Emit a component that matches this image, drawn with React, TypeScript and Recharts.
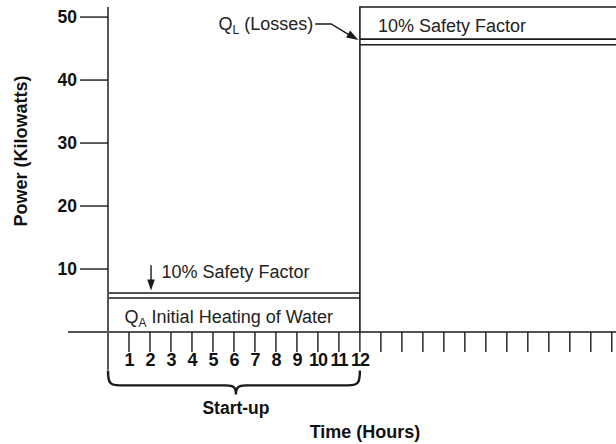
import React from 'react';
import { LineChart, Line, XAxis, YAxis, ReferenceLine, ReferenceDot } from 'recharts';

// ---- data ----
const hourTicks = [1, 2, 3, 4, 5, 6, 7, 8, 9, 10, 11, 12, 13, 14, 15, 16, 17, 18, 19, 20, 21, 22, 23, 24];
const labeledHours = [1, 2, 3, 4, 5, 6, 7, 8, 9, 10, 11, 12];
const powerTicks = [10, 20, 30, 40, 50];

const startupEnd = 12;
const dayEnd = 24.2;
const hourMin = -1.9; // left end of the time axis line
const powerMax = 51.6;
const powerMin = -6; // lower end of the power axis line
const braceLevel = -6.1;

const qA = 5.4; // initial heating of water (kW)
const qASafety = 6.2; // with 10% safety factor
const qL = 45.6; // losses (kW)
const qLSafety = 46.5; // with 10% safety factor

const startupLoad = [{ h: 0, p: qA }, { h: startupEnd, p: qA }];
const startupSafety = [{ h: 0, p: qASafety }, { h: startupEnd, p: qASafety }];
const lossLoad = [{ h: startupEnd, p: qL }, { h: dayEnd, p: qL }];
const lossSafety = [{ h: startupEnd, p: qLSafety }, { h: dayEnd, p: qLSafety }];
const lossBox = [{ h: startupEnd, p: 0 }, { h: startupEnd, p: powerMax }, { h: dayEnd, p: powerMax }];

// annotation anchors (data units)
const topSafetyAnchor = { h: 12.86, p: 47.7 };
const lowSafetyAnchor = { h: 2.55, p: 8.5 };
const qAAnchor = { h: 0.79, p: 1.5 };
const qLLeader = [{ x: 9.87, y: 48.9 }, { x: 11.93, y: 46.35 }];
const downArrow = [{ x: 2.05, y: 10.6 }, { x: 2.05, y: 6.6 }];

const FONT = '"Liberation Sans", Arial, Helvetica, sans-serif';
const INK = '#1a1a1a';

const HourTick = (props: any) => {
  const { x, y, payload } = props;
  if (!labeledHours.includes(payload.value)) return <g />;
  return (
    <text x={x} y={y + 13.5} textAnchor="middle" fontFamily={FONT} fontSize={18} fontWeight="bold" fill="#111" letterSpacing={-1}>
      {payload.value}
    </text>
  );
};

const arrowHead = (x1: number, y1: number, x2: number, y2: number, len = 10, half = 3.5) => {
  const dx = x2 - x1;
  const dy = y2 - y1;
  const d = Math.sqrt(dx * dx + dy * dy) || 1;
  const ux = dx / d;
  const uy = dy / d;
  const bx = x2 - ux * len;
  const by = y2 - uy * len;
  return `M${x2},${y2} L${bx - uy * half},${by + ux * half} L${bx + uy * half},${by - ux * half} Z`;
};

const DownArrowShape = (props: any) => {
  const { x1, y1, x2, y2 } = props;
  return (
    <g>
      <line x1={x1} y1={y1} x2={x2} y2={y2 - 6} stroke={INK} strokeWidth={1.4} />
      <path d={arrowHead(x1, y1, x2, y2, 11, 3.8)} fill={INK} />
    </g>
  );
};

const LeaderShape = (props: any) => {
  const { x1, y1, x2, y2 } = props;
  const kx = x1 + 16;
  return (
    <g>
      <path d={`M${x1},${y1} H${kx} L${x2 - 6},${y2 - 3.2}`} stroke={INK} strokeWidth={1.4} fill="none" />
      <path d={arrowHead(kx, y1, x2, y2, 12, 4)} fill={INK} />
    </g>
  );
};

const BraceShape = (props: any) => {
  const { x1, y1, x2 } = props;
  const mid = (x1 + x2) / 2 + 2;
  const h = 15;
  const tip = 24;
  const d = `M${x1},${y1} C${x1},${y1 + h - 2} ${x1 + 2},${y1 + h} ${x1 + 12},${y1 + h} L${mid - 10},${y1 + h} C${mid - 2},${y1 + h} ${mid},${y1 + h + 2} ${mid},${y1 + tip} C${mid},${y1 + h + 2} ${mid + 2},${y1 + h} ${mid + 10},${y1 + h} L${x2 - 12},${y1 + h} C${x2 - 2},${y1 + h} ${x2},${y1 + h - 2} ${x2},${y1}`;
  return (
    <g>
      <path d={d} stroke={INK} strokeWidth={2.4} fill="none" />
      <text x={mid} y={y1 + 44} textAnchor="middle" fontFamily={FONT} fontSize={17.5} fontWeight="bold" fill="#111">
        Start-up
      </text>
    </g>
  );
};

const textShape = (content: React.ReactNode) => (props: any) => {
  const { cx, cy } = props;
  return (
    <text x={cx} y={cy} fontFamily={FONT} fontSize={18} fill="#222">
      {content}
    </text>
  );
};

const QLText = (props: any) => {
  const { cx, cy } = props;
  return (
    <text x={cx - 2} y={cy + 6} textAnchor="end" fontFamily={FONT} fontSize={18} fill="#222">
      <tspan>Q</tspan>
      <tspan fontSize={12} dy={4}>L</tspan>
      <tspan dy={-4}> (Losses)</tspan>
    </text>
  );
};

const QAText = (props: any) => {
  const { cx, cy } = props;
  return (
    <text x={cx} y={cy} fontFamily={FONT} fontSize={18} fill="#222">
      <tspan>Q</tspan>
      <tspan fontSize={12} dy={4}>A</tspan>
      <tspan dy={-4}> Initial Heating of Water</tspan>
    </text>
  );
};

const PowerTitle = () => (
  <text x={27} y={151} transform="rotate(-90 27 151)" textAnchor="middle" fontFamily={FONT} fontSize={18} fontWeight="bold" fill="#111">
    Power (Kilowatts)
  </text>
);

export default function App() {
  return (
    <div style={{ position: 'absolute', left: 0, top: 0, background: '#fff' }}>
      <LineChart width={616} height={444} margin={{ top: 7, right: 0, bottom: 0, left: 0 }}>
        <XAxis
          type="number"
          dataKey="h"
          domain={[0, dayEnd]}
          ticks={hourTicks}
          interval={0}
          height={112}
          tickSize={20}
          tickMargin={0}
          tickLine={{ stroke: INK, strokeWidth: 1.4 }}
          axisLine={false}
          tick={<HourTick />}
          label={{ value: 'Time (Hours)', position: 'insideBottom', offset: 6, dx: 3, style: { fontFamily: FONT, fontSize: 18, fontWeight: 'bold', fill: '#111' } }}
        />
        <YAxis
          type="number"
          dataKey="p"
          domain={[0, powerMax]}
          ticks={powerTicks}
          interval={0}
          width={108}
          tickSize={28}
          tickMargin={3}
          tickLine={{ stroke: INK, strokeWidth: 1.4 }}
          axisLine={{ stroke: '#555', strokeWidth: 2 }}
          tick={{ fontFamily: FONT, fontSize: 17.5, fontWeight: 'bold', fill: '#111' }}
          label={{ content: <PowerTitle /> }}
        />
        <ReferenceLine segment={[{ x: hourMin, y: 0 }, { x: dayEnd, y: 0 }]} stroke={INK} strokeWidth={1.4} ifOverflow="visible" />
        <ReferenceLine segment={[{ x: 0, y: 0 }, { x: 0, y: powerMin }]} stroke="#555" strokeWidth={2} ifOverflow="visible" />
        <ReferenceLine segment={[{ x: 0, y: braceLevel }, { x: startupEnd, y: braceLevel }]} ifOverflow="visible" shape={(p: any) => <BraceShape {...p} />} />

        <Line data={startupLoad} dataKey="p" stroke={INK} strokeWidth={1.6} dot={false} isAnimationActive={false} />
        <Line data={startupSafety} dataKey="p" stroke={INK} strokeWidth={1.6} dot={false} isAnimationActive={false} />
        <Line data={lossBox} dataKey="p" stroke={INK} strokeWidth={1.6} dot={false} isAnimationActive={false} />
        <Line data={lossLoad} dataKey="p" stroke={INK} strokeWidth={1.6} dot={false} isAnimationActive={false} />
        <Line data={lossSafety} dataKey="p" stroke={INK} strokeWidth={1.6} dot={false} isAnimationActive={false} />

        <ReferenceLine segment={downArrow} ifOverflow="visible" shape={(p: any) => <DownArrowShape {...p} />} />
        <ReferenceLine segment={qLLeader} ifOverflow="visible" shape={(p: any) => <LeaderShape {...p} />} />

        <ReferenceDot x={topSafetyAnchor.h} y={topSafetyAnchor.p} ifOverflow="visible" shape={textShape('10% Safety Factor')} />
        <ReferenceDot x={lowSafetyAnchor.h} y={lowSafetyAnchor.p} ifOverflow="visible" shape={textShape('10% Safety Factor')} />
        <ReferenceDot x={qAAnchor.h} y={qAAnchor.p} ifOverflow="visible" shape={(p: any) => <QAText {...p} />} />
        <ReferenceDot x={qLLeader[0].x} y={qLLeader[0].y} ifOverflow="visible" shape={(p: any) => <QLText {...p} />} />
      </LineChart>
    </div>
  );
}
